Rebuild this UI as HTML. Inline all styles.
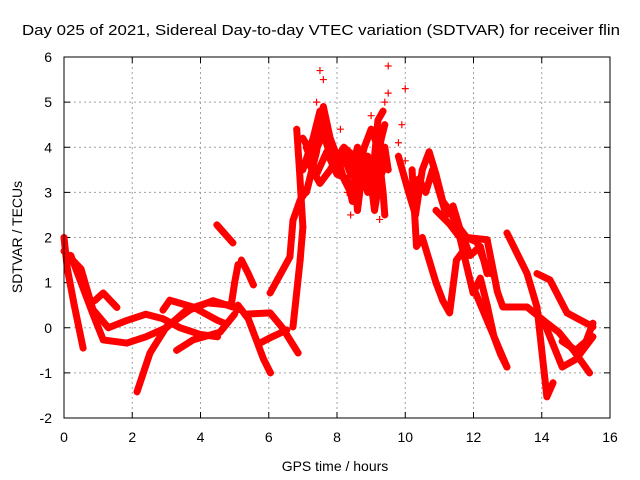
<!DOCTYPE html>
<html><head><meta charset="utf-8"><style>
body{margin:0;background:#fff;}
svg{display:block;font-family:"Liberation Sans",sans-serif;}
</style></head><body>
<svg id="chart" width="640" height="480">
<text x="321" y="35" font-size="15" text-anchor="middle" textLength="598" lengthAdjust="spacingAndGlyphs">Day 025 of 2021, Sidereal Day-to-day VTEC variation (SDTVAR) for receiver flin</text>
<text x="335" y="471" font-size="14" text-anchor="middle">GPS time / hours</text>
<text transform="translate(22,237) rotate(-90)" font-size="14" text-anchor="middle">SDTVAR / TECUs</text>
<g id="grid"></g>
<g id="ticks"></g>
<g id="marks"></g>
<rect x="64" y="57" width="546" height="361" fill="none" stroke="#000" stroke-width="1"/>
</svg>
<script>
const xTicks=[0,2,4,6,8,10,12,14,16];
const yTicks=[-2,-1,0,1,2,3,4,5,6];
const trackA=[[0,2.0],[0.1,1.3],[0.3,0.5],[0.56,-0.45]];
const trackB=[[0,1.7],[0.5,1.3],[0.85,0.4],[1.3,0.0],[1.8,0.15],[2.4,0.3],[2.9,0.2],[3.4,0.0],[4.0,-0.15],[4.5,-0.2]];
const trackC=[[0.2,1.6],[0.5,1.0],[0.85,0.3],[1.15,-0.27],[1.84,-0.34],[2.4,-0.2],[3.0,0.0],[3.6,0.4],[4.2,0.55],[4.9,0.5],[5.1,0.4]];
const trackD=[[0.9,0.6],[1.15,0.77],[1.55,0.45]];
const trackE=[[2.14,-1.42],[2.52,-0.56],[3.0,0.02],[3.7,0.4],[4.37,0.6],[4.95,0.46]];
const trackF=[[2.9,0.39],[3.1,0.61],[3.78,0.46],[4.48,0.17],[4.7,0.1]];
const trackF2=[[3.3,-0.5],[3.78,-0.27],[4.57,-0.1],[5.0,0.3]];
const trackG=[[4.48,2.28],[4.95,1.88]];
const trackH=[[5.2,1.5],[5.4,1.2],[5.55,0.95]];
const trackI=[[5.1,0.5],[5.4,0.2],[5.6,-0.2],[5.85,-0.7],[6.05,-1.0]];
const trackJ=[[5.74,-0.34],[6.1,-0.2],[6.53,-0.05]];
const trackK=[[5.3,0.3],[6.04,0.33],[6.4,0.0],[6.86,-0.56]];
const trackL=[[4.9,0.5],[5.0,1.0],[5.1,1.4]];
const trackM=[[6.04,0.77],[6.62,1.57],[6.71,2.38],[6.92,2.83],[7.12,3.05],[7.3,3.6]];
const trackN=[[6.71,0.02],[6.92,1.5],[7.0,2.23],[6.9,3.5],[6.82,4.4]];
const trackP1=[[7.0,3.5],[7.3,4.2],[7.5,4.8],[7.7,4.4],[7.9,3.8],[8.1,3.6],[8.3,3.9],[8.5,3.4],[8.6,2.6],[8.7,3.2],[8.9,3.8],[9.0,3.2],[9.1,2.6],[9.25,3.3],[9.4,4.0],[9.5,3.5]];
const trackP2=[[7.1,3.0],[7.4,3.9],[7.6,4.9],[7.8,4.2],[8.0,3.8],[8.2,3.3],[8.4,3.0],[8.6,3.4],[8.8,4.0],[9.0,4.4],[9.2,4.0],[9.35,3.0],[9.4,2.5]];
const trackP3=[[7.2,3.6],[7.5,3.2],[7.8,3.5],[8.2,4.0],[8.5,3.8],[8.8,3.5],[9.0,3.0],[9.2,4.6],[9.35,4.8]];
const trackP4=[[7.0,4.2],[7.3,3.8],[7.6,4.3],[7.9,3.6],[8.2,3.8],[8.4,3.4],[8.6,4.0],[8.8,3.3],[9.0,3.6],[9.2,3.2],[9.4,3.6]];
const trackP5=[[7.1,4.0],[7.4,3.4],[7.7,3.9],[8.0,3.4],[8.3,3.3],[8.45,2.8],[8.7,3.6],[8.9,3.0],[9.1,3.4],[9.3,4.2],[9.4,4.5]];
const trackQ1=[[9.8,3.8],[10.1,3.0],[10.3,2.5],[10.5,3.5],[10.7,3.9],[10.9,3.4],[11.1,2.8],[11.3,2.6],[11.5,2.3],[11.8,2.0],[12.1,1.9],[12.3,1.5],[12.5,1.2]];
const trackQ2=[[10.2,3.5],[10.33,1.8],[10.5,2.0],[10.7,1.5],[10.9,1.0],[11.1,0.6],[11.3,0.33],[11.5,1.5],[11.7,1.7]];
const trackQ3=[[10.2,3.0],[10.4,3.3],[10.6,3.0],[10.8,3.5],[11.0,3.0],[11.2,2.5],[11.4,2.7],[11.6,2.2],[11.9,1.6],[12.2,1.8],[12.4,1.2]];
const trackR=[[10.9,2.6],[11.3,2.3],[11.6,2.0],[11.99,0.77],[12.2,1.1],[12.4,0.5],[12.6,-0.2],[12.8,-0.6],[12.98,-0.87]];
const trackS=[[11.8,2.0],[12.4,1.95],[12.7,0.8],[12.86,0.46],[13.57,0.46],[14.04,0.17],[14.5,-0.1],[14.92,-0.49],[15.4,-1.0]];
const trackT=[[12.98,2.1],[13.57,1.2],[13.86,0.46],[14.15,-1.53],[14.33,-1.22]];
const trackU=[[13.86,1.2],[14.24,1.06],[14.74,0.33],[15.5,0.02]];
const trackV=[[11.99,0.9],[12.48,0.02],[12.98,-0.87]];
const trackW=[[14.04,0.17],[14.6,-0.87],[15.0,-0.7],[15.5,-0.2]];
const trackX=[[14.6,-0.3],[15.0,-0.5],[15.3,-0.3],[15.5,0.1]];
const outliers=[[9.5,5.8],[9.5,5.2],[7.5,5.7],[10.0,5.3],[9.9,4.5],[9.0,4.7],[9.8,4.1],[10.0,3.7],[8.3,3.0],[8.4,2.5],[9.25,2.4],[7.6,5.5],[7.4,5.0],[9.4,5.0],[8.1,4.4]];
const tracks=[trackA,trackB,trackC,trackD,trackE,trackF,trackF2,trackG,trackH,trackI,trackJ,trackK,trackL,trackM,trackN,trackP1,trackP2,trackP3,trackP4,trackP5,trackQ1,trackQ2,trackQ3,trackR,trackS,trackT,trackU,trackV,trackW,trackX];

const X0=64,X1=610,Y0=418,Y1=57;
function xs(h){return X0+(h-0)/(16-0)*(X1-X0);}
function ys(v){return Y0-(v-(-2))/(6-(-2))*(Y0-Y1);}
const NS="http://www.w3.org/2000/svg";
const grid=document.getElementById('grid'),ticks=document.getElementById('ticks'),marks=document.getElementById('marks');
function mk(tag,attrs,parent){const e=document.createElementNS(NS,tag);for(const k in attrs)e.setAttribute(k,attrs[k]);parent.appendChild(e);return e;}
xTicks.forEach(t=>{
  const x=xs(t);
  if(t>0&&t<16){const g=mk('line',{x1:x,x2:x,y1:Y1,y2:Y0,stroke:'#a0a0a0','stroke-dasharray':'2,3'},grid);
  
  }
  mk('line',{x1:x,x2:x,y1:Y0,y2:Y0-6,stroke:'#000'},ticks);
  mk('line',{x1:x,x2:x,y1:Y1,y2:Y1+6,stroke:'#000'},ticks);
  const l=mk('text',{x:x,y:Y0+24,'font-size':14,'text-anchor':'middle'},ticks);l.textContent=t;
  
  
});
yTicks.forEach(t=>{
  const y=ys(t);
  if(t>-2&&t<6){const g=mk('line',{x1:X0,x2:X1,y1:y,y2:y,stroke:'#a0a0a0','stroke-dasharray':'2,3'},grid);
  
  }
  mk('line',{x1:X0,x2:X0+6,y1:y,y2:y,stroke:'#000'},ticks);
  mk('line',{x1:X1,x2:X1-6,y1:y,y2:y,stroke:'#000'},ticks);
  const l=mk('text',{x:X0-12,y:y+5,'font-size':14,'text-anchor':'end'},ticks);l.textContent=t;
  
  
});
function plus(h,v){
  const x=xs(h),y=ys(v);
  const p=mk('path',{d:`M${x-3.5},${y}H${x+3.5}M${x},${y-3.5}V${y+3.5}`,stroke:'#f00','stroke-width':1.2,fill:'none'},marks);
  
  
}
tracks.forEach(tr=>{
  const pl=mk('polyline',{points:tr.map(p=>xs(p[0])+','+ys(p[1])).join(' '),fill:'none',stroke:'#f00','stroke-width':7,'stroke-linejoin':'round','stroke-linecap':'round'},marks);
  
  
  tr.forEach(p=>plus(p[0],p[1]));
});
outliers.forEach(p=>plus(p[0],p[1]));
</script>
</body></html>
